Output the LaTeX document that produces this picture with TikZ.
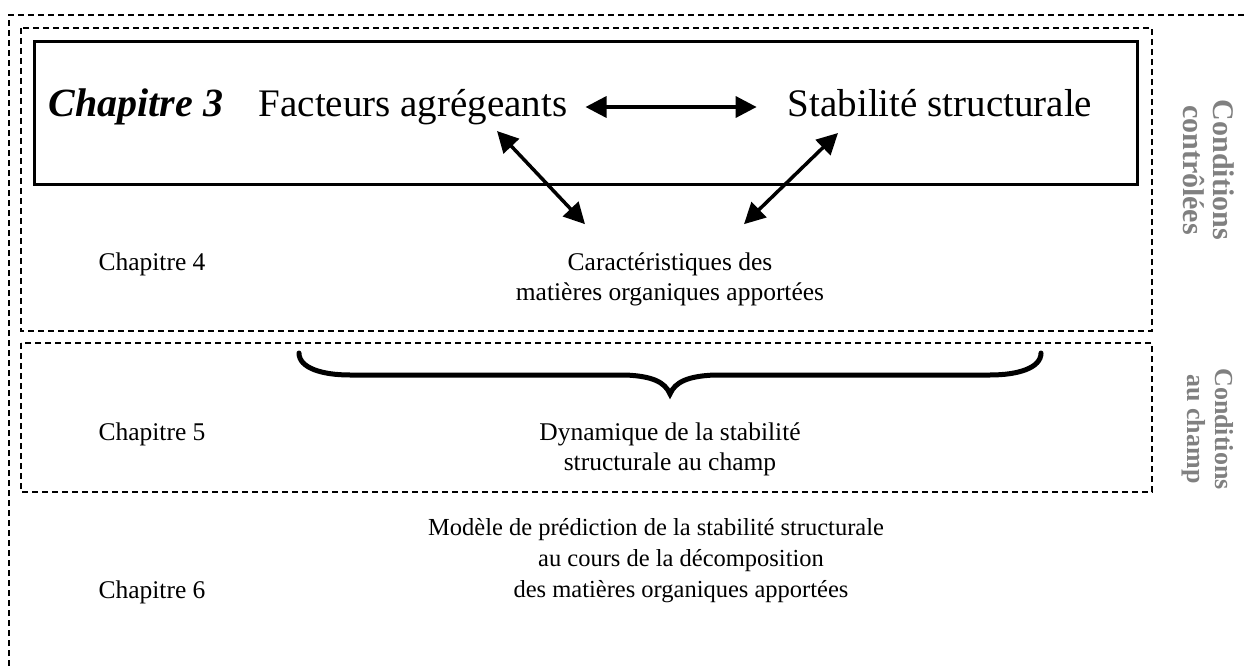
\documentclass[tikz,border=0pt]{standalone}
\usepackage{fontspec}
\setmainfont{Liberation Serif}
\usetikzlibrary{arrows.meta}
\definecolor{labgrey}{HTML}{808080}
\begin{document}
\begin{tikzpicture}[x=1pt,y=-1pt,
  dashbox/.style={draw, line width=1.4pt, dash pattern=on 6pt off 4pt},
  big/.style={font=\fontsize{39}{45}\selectfont, inner sep=0pt, anchor=base},
  small/.style={font=\fontsize{25.5}{30}\selectfont, inner sep=0pt, align=center},
  side/.style={font=\fontsize{26}{28}\selectfont\bfseries, text=labgrey, inner sep=0pt, align=center, rotate=-90},
  arr/.style={{Triangle[length=21pt,width=21pt]}-{Triangle[length=21pt,width=21pt]}, line width=3.5pt},
]
\useasboundingbox (0,0) rectangle (1247,666);
% frames
\draw[dashbox] (9,666) -- (9,15) -- (1247,15);
\draw[dashbox] (21,28) rectangle (1152,331);
\draw[dashbox] (21,343) rectangle (1152,492);
\node[draw, line width=3pt, minimum width=1103pt, minimum height=142pt, inner sep=0pt] (box3) at (585.5,113) {};
% chapter 3 row
\node[big, font=\fontsize{40}{45}\selectfont\bfseries\itshape] (ch3) at (136,117) {Chapitre 3};
\node[big] (fac) at (413,117) {Facteurs agrégeants};
\node[big] (stab) at (940,117) {Stabilité structurale};
% chapter labels
\node[small, anchor=base] (ch4) at (152,270) {Chapitre 4};
\node[small, anchor=base] (ch5) at (152,440) {Chapitre 5};
\node[small, anchor=base] (ch6) at (152,598) {Chapitre 6};
% texts
\node[small] (car) at (670,279) {Caractéristiques des\\matières organiques apportées};
\node[small] (dyn) at (670,449) {Dynamique de la stabilité\\structurale au champ};
\node[small, font=\fontsize{24.5}{31}\selectfont] (mod) at (656,561) {Modèle de prédiction de la stabilité structurale\\\hspace*{50pt}au cours de la décomposition\\\hspace*{50pt}des matières organiques apportées};
% side labels
\node[side, font=\fontsize{30}{30}\selectfont\bfseries] (cc) at (1209,170) {Conditions\\contrôlées};
\node[side] (cac) at (1208,429) {Conditions\\au champ};
% arrows
\draw[arr] ([xshift=18pt,yshift=10pt]fac.base east) -- ([xshift=-31pt,yshift=10pt]stab.base west);
\draw[arr] ([xshift=84pt,yshift=-14pt]fac.base) -- ([xshift=-85pt,yshift=28pt]car.north);
\draw[arr] ([xshift=-102pt,yshift=-16pt]stab.base) -- ([xshift=74pt,yshift=28pt]car.north);
% brace
\coordinate (brl) at (299,353);
\coordinate (brr) at (1041,353);
\draw[line width=5pt, line cap=round] (brl) .. controls (299,368) and (322,375) .. (350,375)
  -- (625,375) .. controls (652,376) and (665,382) .. (670,394)
  .. controls (675,382) and (688,376) .. (715,375)
  -- (990,375) .. controls (1018,375) and (1041,368) .. (brr);
\end{tikzpicture}
\end{document}
